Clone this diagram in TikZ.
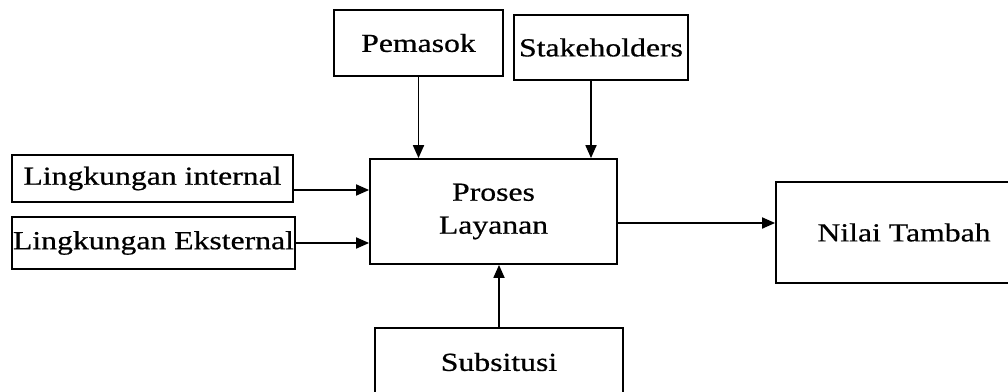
\documentclass[tikz,border=0pt]{standalone}
\usepackage{fontspec}
\setmainfont{Liberation Serif}[FakeStretch=1.22,FakeBold=0.6]
\usetikzlibrary{arrows.meta}
\begin{document}
\begin{tikzpicture}[x=1pt,y=-1pt,
  blok/.style={draw, line width=1.8pt, inner sep=0pt, align=center,
    font=\fontsize{26}{33}\selectfont},
  panah/.style={line width=1.8pt, -{Triangle[length=13pt,width=11pt]}}]
\useasboundingbox (0,0) rectangle (1008,391);
\clip (0,0) rectangle (1008,391);

% boxes
\node[blok, minimum width=169pt, minimum height=66pt] (pem) at (418.5,43) {Pemasok};
\node[blok, minimum width=174pt, minimum height=65pt] (stk) at (601,47.5) {Stakeholders};
\node[blok, minimum width=247pt, minimum height=105pt] (proc) at (493.5,211.5) {Proses\\Layanan};
\node[blok, minimum width=281pt, minimum height=47pt] (int) at (152.5,178.5) {Lingkungan internal};
\node[blok, minimum width=283pt, minimum height=52pt] (eks) at (153.5,243) {Lingkungan Eksternal};
\node[blok, minimum width=256pt, minimum height=101pt] (nil) at (904,232.5) {Nilai Tambah};
\node[blok, minimum width=248pt, minimum height=68pt] (sub) at (499,362) {Subsitusi};

% connector start points
\coordinate (s1) at ([xshift=-10pt]stk.south);
\coordinate (i1) at ([yshift=-11.5pt]int.east);
\coordinate (p1) at ([yshift=-11.5pt]proc.east);

% connectors
\draw[panah] (pem.south) -- (pem.south |- proc.north);
\draw[panah] (s1) -- (s1 |- proc.north);
\draw[panah] (i1) -- (i1 -| proc.west);
\draw[panah] (eks.east) -- (eks.east -| proc.west);
\draw[panah] (p1) -- (p1 -| nil.west);
\draw[panah] (sub.north) -- (sub.north |- proc.south);
\end{tikzpicture}
\end{document}
